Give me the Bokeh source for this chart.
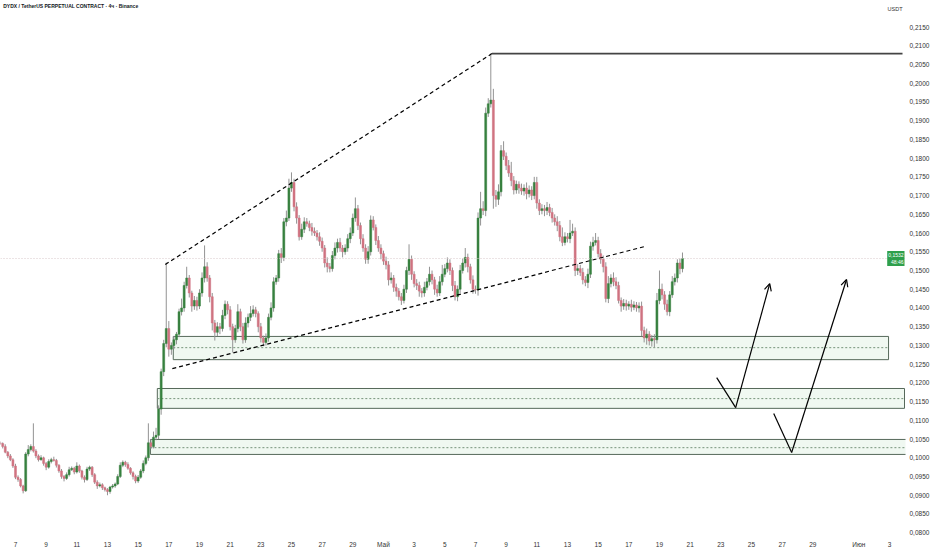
import numpy as np
from bokeh.plotting import figure
from bokeh.models import (Range1d, FixedTicker, CustomJSTickFormatter, Label,
                          Arrow, OpenHead, Span)
from bokeh.embed import file_html
from bokeh.resources import INLINE

title_text = "DYDX / TetherUS PERPETUAL CONTRACT · 4ч · Binance"

# 4h candles, starting 6 April; opens follow the previous close
first_open = 0.1040
closes = [
    0.1038, 0.1030, 0.1015, 0.1005, 0.0995, 0.0978,
    0.0948, 0.0942, 0.0925, 0.0912, 0.1010, 0.1022,
    0.1030, 0.1018, 0.1005, 0.0995, 0.1000, 0.0985,
    0.0975, 0.0990, 0.0995, 0.0993, 0.0980, 0.0965,
    0.0950, 0.0945, 0.0955, 0.0968, 0.0972, 0.0962,
    0.0978, 0.0965, 0.0948, 0.0942, 0.0970, 0.0975,
    0.0955, 0.0935, 0.0925, 0.0928, 0.0920, 0.0915,
    0.0910, 0.0922, 0.0925, 0.0930, 0.0950, 0.0980,
    0.0988, 0.0982, 0.0972, 0.0960, 0.0950, 0.0938,
    0.0948, 0.0965, 0.0985, 0.1000, 0.1040, 0.1030,
    0.1055, 0.1060, 0.1130, 0.1230, 0.1305, 0.1345,
    0.1290, 0.1300, 0.1315, 0.1330, 0.1390, 0.1400,
    0.1460, 0.1480, 0.1440, 0.1405, 0.1420, 0.1405,
    0.1440, 0.1480, 0.1510, 0.1480, 0.1430, 0.1360,
    0.1335, 0.1350, 0.1345, 0.1380, 0.1410, 0.1395,
    0.1350, 0.1315, 0.1345, 0.1390, 0.1350, 0.1315,
    0.1360, 0.1375, 0.1385, 0.1395, 0.1385, 0.1350,
    0.1320, 0.1308, 0.1320, 0.1375, 0.1400, 0.1470,
    0.1480, 0.1545, 0.1535, 0.1630, 0.1640, 0.1720,
    0.1735, 0.1670, 0.1640, 0.1590, 0.1610, 0.1630,
    0.1625, 0.1615, 0.1605, 0.1600, 0.1590, 0.1578,
    0.1560, 0.1520, 0.1510, 0.1505, 0.1540, 0.1560,
    0.1575, 0.1560, 0.1550, 0.1560, 0.1585, 0.1600,
    0.1640, 0.1665, 0.1620, 0.1585, 0.1560, 0.1530,
    0.1550, 0.1635, 0.1615, 0.1580, 0.1560, 0.1545,
    0.1525, 0.1515, 0.1475, 0.1480, 0.1455, 0.1445,
    0.1430, 0.1420, 0.1450, 0.1500, 0.1530, 0.1490,
    0.1465, 0.1460, 0.1445, 0.1440, 0.1455, 0.1470,
    0.1490, 0.1475, 0.1450, 0.1440, 0.1470, 0.1490,
    0.1505, 0.1520, 0.1500, 0.1460, 0.1430, 0.1450,
    0.1500, 0.1520, 0.1535, 0.1510, 0.1475, 0.1450,
    0.1448, 0.1640, 0.1665, 0.1660, 0.1920, 0.1945,
    0.1955, 0.1700, 0.1690, 0.1710, 0.1820, 0.1805,
    0.1780, 0.1760, 0.1740, 0.1715, 0.1730, 0.1720,
    0.1712, 0.1720, 0.1705, 0.1715, 0.1700, 0.1735,
    0.1680, 0.1660, 0.1665, 0.1660, 0.1668, 0.1655,
    0.1640, 0.1630, 0.1620, 0.1590, 0.1575, 0.1590,
    0.1585, 0.1600, 0.1605, 0.1500, 0.1505, 0.1495,
    0.1475, 0.1468, 0.1490, 0.1565, 0.1575, 0.1580,
    0.1545, 0.1530, 0.1510, 0.1425, 0.1465, 0.1480,
    0.1470, 0.1460, 0.1420, 0.1405, 0.1412, 0.1405,
    0.1410, 0.1402, 0.1408, 0.1400, 0.1405, 0.1340,
    0.1320, 0.1330, 0.1312, 0.1318, 0.1315, 0.1420,
    0.1450, 0.1435, 0.1410, 0.1390, 0.1435, 0.1470,
    0.1480, 0.1520, 0.1505, 0.1532,
]
# wick lengths above / below the body, in 0.0001
up_wick = [
    4, 3, 6, 3, 5, 4,  6, 5, 4, 3, 5, 12,  6, 62, 5, 4, 7, 3,
    4, 6, 5, 8, 4, 3,  5, 4, 6, 8, 5, 4,  10, 4, 3, 5, 6, 4,
    3, 4, 5, 6, 4, 3,  4, 3, 5, 4, 6, 8,  5, 4, 6, 3, 4, 5,
    6, 5, 8, 6, 52, 10,  15, 20, 10, 8, 10, 176,  20, 8, 10, 6, 8, 25,
    10, 30, 8, 6, 12, 10,  10, 15, 57, 12, 8, 10,  8, 12, 10, 15, 10, 8,
    10, 8, 10, 20, 8, 10,  15, 10, 20, 12, 8, 6,  10, 6, 12, 10, 15, 12,
    8, 10, 15, 10, 20, 25,  27, 10, 12, 8, 15, 12,  10, 8, 12, 10, 8, 12,
    10, 8, 15, 10, 12, 15,  10, 12, 8, 10, 12, 15,  12, 30, 10, 8, 12, 10,
    15, 12, 10, 8, 12, 10,  8, 12, 10, 15, 8, 10,  8, 10, 12, 10, 40, 10,
    8, 12, 10, 8, 15, 10,  20, 10, 8, 12, 15, 25,  12, 15, 10, 8, 12, 10,
    15, 12, 25, 10, 8, 12,  10, 15, 45, 20, 15, 15,  124, 30, 15, 20, 15, 25,
    10, 15, 30, 12, 10, 8,  12, 10, 15, 12, 10, 15,  15, 10, 12, 10, 15, 10,
    12, 10, 15, 12, 25, 12,  10, 35, 20, 10, 12, 10,  12, 10, 15, 12, 15, 20,
    10, 12, 10, 12, 20, 10,  15, 12, 10, 8, 12, 10,  8, 12, 10, 8, 10, 12,
    10, 15, 8, 10, 12, 20,  50, 15, 10, 12, 10, 15,  12, 10, 12, 16,
]
down_wick = [
    4, 5, 3, 6, 4, 5,  5, 6, 4, 7, 3, 6,  5, 4, 6, 5, 3, 6,
    8, 4, 5, 3, 6, 5,  6, 8, 4, 5, 3, 6,  4, 5, 6, 8, 4, 5,
    6, 5, 8, 4, 6, 5,  10, 6, 4, 5, 3, 4,  5, 6, 4, 5, 8, 6,
    5, 4, 6, 5, 8, 6,  5, 8, 10, 15, 12, 10,  20, 15, 10, 12, 8, 10,
    10, 8, 12, 15, 10, 12,  8, 10, 12, 10, 15, 20,  22, 10, 15, 8, 10, 12,
    10, 34, 8, 10, 12, 10,  8, 12, 10, 8, 10, 15,  12, 10, 8, 10, 8, 10,
    8, 10, 15, 10, 12, 8,  10, 12, 15, 10, 8, 10,  8, 10, 12, 8, 10, 12,
    10, 12, 15, 10, 8, 10,  12, 10, 15, 8, 10, 12,  8, 10, 12, 15, 10, 12,
    12, 10, 8, 12, 10, 15,  10, 12, 15, 10, 12, 15,  10, 12, 8, 10, 12, 15,
    10, 12, 15, 12, 10, 8,  10, 12, 15, 10, 8, 10,  8, 10, 12, 15, 10, 12,
    10, 8, 12, 15, 10, 12,  10, 15, 20, 12, 15, 10,  10, 35, 20, 15, 12, 10,
    12, 10, 15, 12, 10, 15,  10, 12, 15, 10, 12, 10,  15, 12, 10, 15, 12, 10,
    12, 10, 15, 12, 10, 8,  10, 12, 8, 15, 12, 10,  12, 10, 15, 10, 12, 8,
    10, 12, 15, 10, 12, 10,  12, 10, 8, 15, 10, 12,  10, 12, 8, 10, 12, 15,
    12, 18, 12, 15, 20, 10,  10, 12, 15, 10, 12, 8,  10, 12, 15, 10,
]

# time axis: day number counted from 1 April (Май = 31, Июн = 62)
x_ticks = [7, 9, 11, 13, 15, 17, 19, 21, 23, 25, 27, 29,
           31, 33, 35, 37, 39, 41, 43, 45, 47, 49, 51, 53, 55, 57, 59, 62, 64]
x_labels = ["7", "9", "11", "13", "15", "17", "19", "21", "23", "25", "27", "29",
            "Май", "3", "5", "7", "9", "11", "13", "15", "17", "19", "21", "23",
            "25", "27", "29", "Июн", "3"]
price_ticks = [0.080, 0.085, 0.090, 0.095, 0.100, 0.105, 0.110, 0.115, 0.120,
               0.125, 0.130, 0.135, 0.140, 0.145, 0.150, 0.155, 0.160, 0.165,
               0.170, 0.175, 0.180, 0.185, 0.190, 0.195, 0.200, 0.205, 0.210,
               0.215]

# demand zones
zone_left = [17.29, 16.25, 15.80]
zone_right = [63.94, 64.98, 66.00]
zone_top = [0.1324, 0.1185, 0.1049]
zone_bottom = [0.1262, 0.1132, 0.1009]
zone_mid = [0.1294, 0.1158, 0.1027]

# drawings
upper_channel_x = [16.77, 38.07]
upper_channel_y = [0.1516, 0.2079]
lower_channel_x = [17.23, 48.04]
lower_channel_y = [0.1238, 0.1564]
high_line_x = [38.07, 64.85]
high_line_y = [0.2079, 0.2079]
path1_x = [52.73, 53.97, 56.19]
path1_y = [0.1214, 0.1134, 0.1465]
path2_x = [56.45, 57.62, 61.20]
path2_y = [0.1118, 0.1014, 0.1476]
last_price = 0.1532
last_time = "48:46"

GREEN = "#37803f"
RED = "#d07380"

closes = np.array(closes)
opens = np.concatenate([[first_open], closes[:-1]])
top = np.maximum(opens, closes)
bottom = np.minimum(opens, closes)
highs = top + np.array(up_wick) / 10000
lows = bottom - np.array(down_wick) / 10000
t = 6 + np.arange(len(closes)) / 6
colors = [GREEN if c >= o else RED for o, c in zip(opens, closes)]

x_start, x_end = 6.023, 65.045
y_start, y_end = 0.07899, 0.22208
p = figure(width=932, height=550, x_range=Range1d(x_start, x_end),
           y_range=Range1d(y_start, y_end), y_axis_location="right",
           output_backend="svg", toolbar_location=None,
           min_border_left=0, min_border_top=0, min_border_right=26,
           min_border_bottom=14)
p.grid.visible = False
p.outline_line_color = None
p.background_fill_color = "white"

p.xaxis.ticker = FixedTicker(ticks=x_ticks)
p.xaxis.major_label_overrides = dict(zip(x_ticks, x_labels))
p.yaxis.ticker = FixedTicker(ticks=price_ticks)
p.yaxis.formatter = CustomJSTickFormatter(
    code="return tick.toFixed(4).replace('.', ',');")
for ax in (p.xaxis, p.yaxis):
    ax.axis_line_color = None
    ax.major_tick_line_color = None
    ax.minor_tick_line_color = None
    ax.major_tick_out = 0
    ax.major_tick_in = 0
    ax.minor_tick_out = 0
    ax.minor_tick_in = 0
    ax.major_label_standoff = 4
    ax.major_label_text_font = "Liberation Sans"
    ax.major_label_text_font_size = "6.5px"
    ax.major_label_text_color = "#333333"

p.quad(left=zone_left, right=zone_right, top=zone_top, bottom=zone_bottom,
       fill_color="#edf7ee", fill_alpha=0.85, line_color="#56695a",
       line_width=1)
p.segment(x0=zone_left, x1=zone_right, y0=zone_mid, y1=zone_mid,
          line_color="#76937a", line_dash="2 2", line_width=1)

p.add_layout(Span(location=last_price, dimension="width",
                  line_color="#d8c8cb", line_dash="1 2", line_width=1))

p.segment(x0=t, x1=t, y0=highs, y1=lows, line_color="#939393", line_width=1)
p.vbar(x=t, width=0.13, top=top, bottom=bottom, fill_color=colors,
       line_color=colors, line_width=0.5)

p.line(upper_channel_x, upper_channel_y, line_color="black", line_width=1.2,
       line_dash="4 3")
p.line(lower_channel_x, lower_channel_y, line_color="black", line_width=1.2,
       line_dash="4 3")
p.line(high_line_x, high_line_y, line_color="#444444", line_width=1.6)

for px, py in ((path1_x, path1_y), (path2_x, path2_y)):
    p.line(px[:2], py[:2], line_color="black", line_width=1.2)
    p.add_layout(Arrow(x_start=px[1], y_start=py[1], x_end=px[2], y_end=py[2],
                       line_color="black", line_width=1.2,
                       end=OpenHead(size=7, line_color="black",
                                    line_width=1.2)))

p.add_layout(Label(x=6.2, y=0.2205, text=title_text, text_font_size="5px",
                   text_font="Liberation Sans", text_font_style="bold",
                   text_color="#131722", text_baseline="middle"))
p.add_layout(Label(x=x_end, y=y_end, x_offset=-3, y_offset=-8, text="USDT",
                   text_font_size="5.5px", text_font="Liberation Sans",
                   text_color="#333333", text_baseline="middle",
                   text_align="right"))
p.add_layout(Label(x=x_end, y=last_price, x_offset=-1,
                   text="0,1532\n" + last_time, text_font_size="5px",
                   text_font="Liberation Sans", text_color="white",
                   text_baseline="middle", text_align="right",
                   background_fill_color="#2e9f4c", padding=1))

open("out.html", "w").write(file_html(p, INLINE))
